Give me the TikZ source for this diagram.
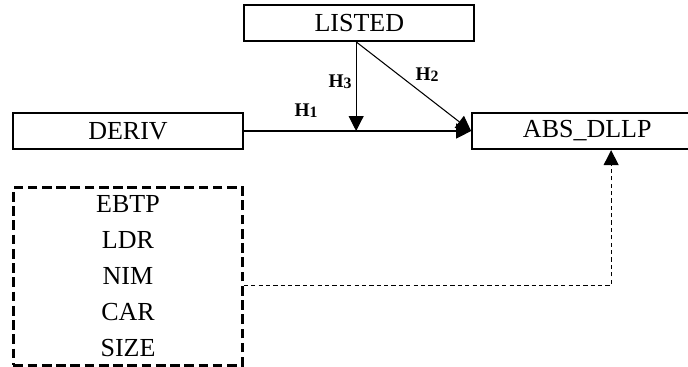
\documentclass[tikz,border=0pt]{standalone}
\usepackage{fontspec}
\setmainfont{Liberation Serif}
\usetikzlibrary{arrows.meta,positioning,calc}

\newcommand{\hyp}[1]{\textbf{H}\raisebox{-0.6pt}{\small\textbf{#1}}}

\begin{document}
\begin{tikzpicture}[
  varbox/.style={rectangle, draw, line width=1.3pt, minimum width=4.6cm, minimum height=0.72cm, inner sep=0pt, font=\fontsize{14.8}{16}\selectfont},
  ctrlbox/.style={rectangle, draw, line width=1.5pt, dash pattern=on 5.5pt off 2.6pt, minimum width=4.58cm, minimum height=3.56cm, inner sep=0pt, align=center, font=\fontsize{14.8}{20.5}\selectfont},
  arrow/.style={-{Triangle[length=0.3cm,width=0.3cm]}, line width=0.6pt},
  ctrlarrow/.style={arrow, dash pattern=on 2.4pt off 1.8pt},
  hlabel/.style={font=\fontsize{11}{12}\selectfont}
]
  \useasboundingbox (0,0) rectangle (13.76,-7.32);

  \node[varbox] (deriv) at (2.56,-2.62) {DERIV};
  \node[varbox, above right=1.4cm and -0.02cm of deriv] (listed) {LISTED};
  \node[varbox, right=4.54cm of deriv] (absdllp) {ABS\_DLLP};
  \node[ctrlbox, below=0.72cm of deriv] (ctrl) {EBTP\\LDR\\NIM\\CAR\\SIZE};

  % hypotheses
  \coordinate (top) at ($(listed.south west)+(2.26,0)$);
  \coordinate (meet) at (top |- deriv.east);
  \draw[arrow] (deriv) -- (absdllp);
  \draw[arrow] (top) -- (meet);
  \draw[arrow] (top) -- (absdllp.west);

  % controls
  \coordinate (ctrlout) at ($(ctrl.east)+(0,-0.18)$);
  \draw[ctrlarrow] (ctrlout) -| ($(absdllp.south west)+(2.8,0)$);

  \node[hlabel] (h1) at (6.12,-2.22) {\hyp{1}};
  \node[hlabel] (h3) at (6.8,-1.64) {\hyp{3}};
  \node[hlabel] (h2) at (8.54,-1.5) {\hyp{2}};
\end{tikzpicture}
\end{document}
